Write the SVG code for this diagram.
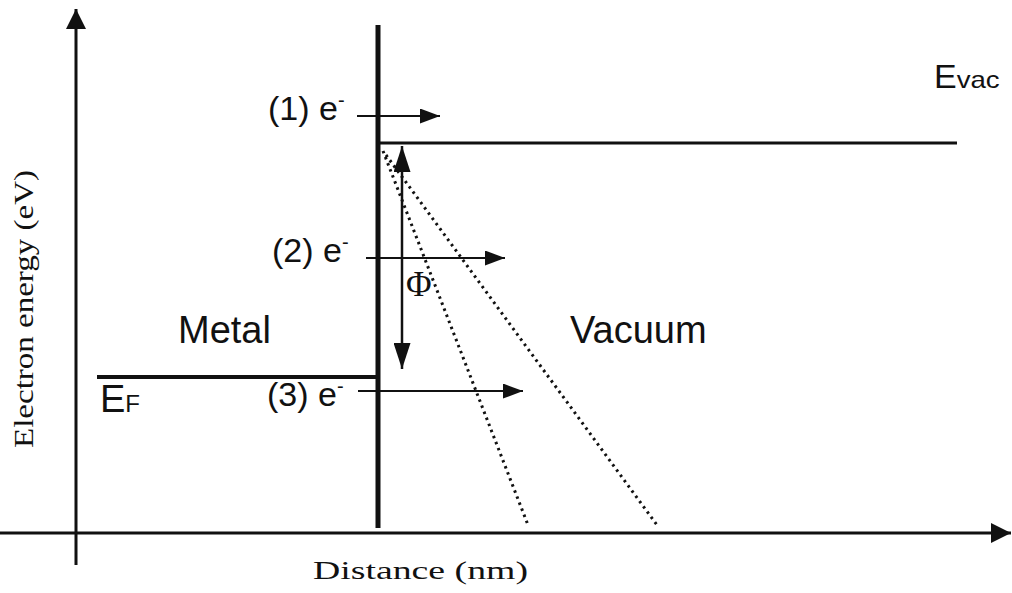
<svg xmlns="http://www.w3.org/2000/svg" width="1012" height="593" viewBox="0 0 1012 593">
<style>
.sans{font-family:"Liberation Sans",Arial,sans-serif;fill:#111;}
.serif{font-family:"Liberation Serif","Times New Roman",serif;fill:#111;}
.ln{stroke:#111;fill:none;}
.dot{stroke:#111;stroke-width:3;stroke-dasharray:2.5 4;fill:none;}
</style>
<defs>
<marker id="big" viewBox="0 0 10 10" refX="10" refY="5" markerWidth="20" markerHeight="20" markerUnits="userSpaceOnUse" orient="auto">
<path d="M0,0 L10,5 L0,10 Z" fill="#111"/>
</marker>
<marker id="mid" viewBox="0 0 10 10" refX="10" refY="5" markerWidth="20" markerHeight="15" markerUnits="userSpaceOnUse" orient="auto" preserveAspectRatio="none">
<path d="M0,0 L10,5 L0,10 Z" fill="#111"/>
</marker>
<marker id="phi" viewBox="0 0 10 10" refX="10" refY="5" markerWidth="26" markerHeight="17" markerUnits="userSpaceOnUse" orient="auto" preserveAspectRatio="none">
<path d="M0,0 L10,5 L0,10 Z" fill="#111"/>
</marker>
</defs>
<g id="connectors">
<line class="ln" x1="76" y1="565" x2="76" y2="9" stroke-width="3" stroke="#555" marker-end="url(#big)"/>
<line class="ln" x1="0" y1="533" x2="1011" y2="533" stroke-width="3" marker-end="url(#big)"/>
<line class="ln" x1="378" y1="25" x2="378" y2="528" stroke-width="5"/>
<line class="ln" x1="380" y1="143" x2="957" y2="143" stroke-width="3"/>
<line class="ln" x1="97" y1="377" x2="378" y2="377" stroke-width="4"/>
<line class="ln" x1="357" y1="116" x2="440" y2="116" stroke-width="2" marker-end="url(#mid)"/>
<line class="ln" x1="366" y1="258" x2="505" y2="258" stroke-width="2" marker-end="url(#mid)"/>
<line class="ln" x1="358" y1="391" x2="523" y2="391" stroke-width="2" marker-end="url(#mid)"/>
<line class="ln" x1="402" y1="200" x2="402" y2="146" stroke-width="2.5" marker-end="url(#phi)"/>
<line class="ln" x1="402" y1="200" x2="402" y2="369" stroke-width="2.5" marker-end="url(#phi)"/>
<line class="dot" x1="383" y1="151" x2="528" y2="525"/>
<line class="dot" x1="386" y1="155" x2="657" y2="525"/>
</g>
<g id="labels">
<text class="sans" x="268" y="120" font-size="34">(1) e<tspan dy="-13" font-size="20">-</tspan></text>
<text class="sans" x="272" y="262" font-size="34">(2) e<tspan dy="-13" font-size="20">-</tspan></text>
<text class="sans" x="267" y="406" font-size="34">(3) e<tspan dy="-13" font-size="20">-</tspan></text>
<text class="sans" x="934" y="88" font-size="34">E<tspan font-size="24" textLength="43" lengthAdjust="spacingAndGlyphs">vac</tspan></text>
<text class="sans" x="100" y="412" font-size="38">E<tspan font-size="24">F</tspan></text>
<text class="sans" x="178" y="343" font-size="38">Metal</text>
<text class="sans" x="570" y="343" font-size="38">Vacuum</text>
<text class="serif" x="406" y="296" font-size="35">Φ</text>
<text class="serif" x="313" y="579" font-size="25" textLength="215" lengthAdjust="spacingAndGlyphs">Distance (nm)</text>
<text class="serif" x="0" y="0" font-size="27" textLength="278" lengthAdjust="spacingAndGlyphs" transform="translate(33,448) rotate(-90)">Electron energy (eV)</text>
</g>
</svg>
